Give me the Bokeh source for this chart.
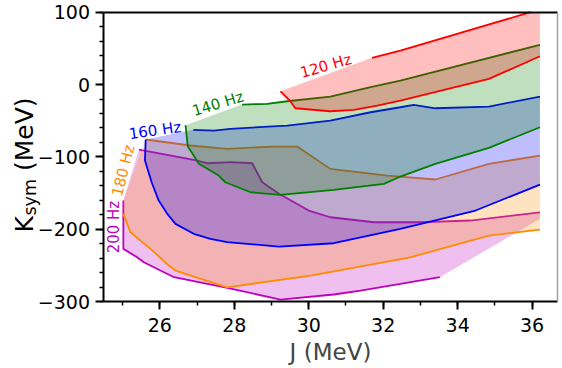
import math
from bokeh.plotting import figure
from bokeh.models import (Range1d, SingleIntervalTicker, FixedTicker, Label,
                          ColumnDataSource, LinearAxis)
from bokeh.core.properties import value
from bokeh.embed import file_html
from bokeh.resources import INLINE

# ---------------- data (J in MeV, Ksym in MeV) ----------------
# 120 Hz band
f120_upper_J = [31.70, 32.46, 35.96]
f120_upper_K = [36.9, 47.0, 100.0]
f120_corner_J = [36.21]
f120_corner_K = [100.0]
f120_lower_J = [29.24, 29.49, 29.64, 30.58, 31.21, 31.84, 32.46, 34.84, 36.21]
f120_lower_K = [-9.3, -22.1, -32.8, -36.9, -35.0, -29.0, -22.1, 7.9, 39.1]

# 140 Hz band
f140_upper_J = [28.21, 28.88, 29.42, 30.58, 31.66, 32.46, 36.21]
f140_upper_K = [-27.7, -26.7, -23.1, -16.6, -3.7, 5.5, 54.9]
f140_lower_J = [26.69, 26.75, 27.05, 27.58, 27.76, 28.44, 29.24, 30.67, 32.02, 32.46, 33.40, 34.84, 36.21]
f140_lower_K = [-56.3, -85.3, -109.6, -125.8, -135.1, -148.9, -152.5, -145.6, -137.3, -127.2, -109.6, -87.5, -59.0]

# 160 Hz band
f160_upper_J = [26.90, 27.45, 27.90, 29.42, 30.58, 31.66, 32.46, 32.82, 33.40, 34.84, 36.21]
f160_upper_K = [-62.6, -63.6, -61.2, -56.7, -49.8, -38.3, -31.4, -28.1, -32.8, -30.4, -16.6]
f160_lower_J = [25.62, 25.60, 25.78, 25.97, 26.20, 26.42, 26.91, 27.36, 27.81, 29.20, 30.67, 32.46, 34.48, 36.21]
f160_lower_K = [-76.0, -105.1, -135.1, -160.4, -178.8, -192.6, -206.4, -213.3, -218.0, -224.0, -219.4, -199.5, -174.2, -138.3]

# 180 Hz band
f180_upper_J = [25.62, 26.82, 27.81, 29.06, 29.69, 30.58, 32.11, 33.40, 34.84, 36.21]
f180_upper_K = [-76.0, -84.3, -88.9, -85.7, -85.7, -116.6, -125.8, -131.3, -109.6, -98.2]
f180_lower_J = [25.02, 25.21, 25.75, 26.24, 26.42, 27.81, 30.05, 32.73, 34.84, 36.21]
f180_lower_K = [-178.8, -204.2, -227.2, -250.3, -257.2, -280.3, -264.1, -238.8, -208.8, -200.5]

# 200 Hz band
f200_upper_J = [25.44, 26.91, 27.27, 27.90, 28.48, 28.75, 29.20, 30.00, 30.58, 31.75, 33.00, 34.34, 36.21]
f200_upper_K = [-89.9, -104.0, -108.8, -107.4, -108.8, -135.1, -151.1, -174.2, -183.5, -190.4, -190.4, -188.0, -176.6]
f200_lower_J = [25.02, 25.02, 25.39, 25.57, 26.38, 27.81, 29.24, 30.67, 31.39, 32.46, 33.52]
f200_lower_K = [-160.4, -227.2, -238.8, -245.7, -266.4, -281.1, -297.3, -290.3, -284.8, -275.6, -266.4]
f200_corner_J = [36.21]
f200_corner_K = [-185.7]

# band labels
label_text = ["120 Hz", "140 Hz", "160 Hz", "180 Hz", "200 Hz"]
label_J = [30.46, 27.56, 25.87, 25.02, 24.77]
label_K = [25.6, -26.7, -63.6, -118.9, -197.0]
label_angle_deg = [16, 17, 8, 76, 90]

# axes / ticks
J_MIN, J_MAX = 24.5, 36.68
K_MIN, K_MAX = -300, 100
ytick_values = [-300, -200, -100, 0, 100]
ytick_labels = ["\u2212300", "\u2212200", "\u2212100", "0", "100"]

colors = {"120": "#ff0000", "140": "#008000", "160": "#0000ff", "180": "#ff8c00", "200": "#bf00bf"}
FONT = "DejaVu Sans"

# whole canvas is the frame; axes are fixed at the data edges
p = figure(width=562, height=368, output_backend="svg", toolbar_location=None,
           x_range=Range1d(21.720, 36.816), y_range=Range1d(-392.6, 116.2),
           min_border=0, min_border_left=0, min_border_right=0,
           min_border_top=0, min_border_bottom=0)
p.grid.visible = False
p.outline_line_color = None
p.background_fill_color = "white"
p.border_fill_color = "white"

polys = {
    "200": (f200_upper_J + f200_corner_J + f200_lower_J[::-1],
            f200_upper_K + f200_corner_K + f200_lower_K[::-1]),
    "180": (f180_upper_J + f180_lower_J[::-1] + [f200_lower_J[0]],
            f180_upper_K + f180_lower_K[::-1] + [f200_lower_K[0]]),
    "160": (f160_upper_J + f160_lower_J[::-1],
            f160_upper_K + f160_lower_K[::-1]),
    "140": (f140_upper_J + f140_lower_J[::-1],
            f140_upper_K + f140_lower_K[::-1]),
    "120": (f120_upper_J + f120_corner_J + f120_lower_J[::-1],
            f120_upper_K + f120_corner_K + f120_lower_K[::-1]),
}
lines = {
    "200": [(f200_upper_J, f200_upper_K), (f200_lower_J, f200_lower_K)],
    "180": [(f180_upper_J, f180_upper_K), (f180_lower_J, f180_lower_K)],
    "160": [(f160_upper_J, f160_upper_K), (f160_lower_J, f160_lower_K)],
    "140": [(f140_upper_J, f140_upper_K), (f140_lower_J, f140_lower_K)],
    "120": [(f120_upper_J, f120_upper_K), (f120_lower_J, f120_lower_K)],
}

for key in ["200", "180", "160", "140", "120"]:
    c = colors[key]
    for (lx, ly) in lines[key]:
        p.line(lx, ly, line_color=c, line_width=1.8)
    px, py = polys[key]
    p.patch(px, py, fill_color=c, fill_alpha=0.25, line_color=None)

src = ColumnDataSource(dict(
    x=label_J, y=label_K, text=label_text,
    angle=[math.radians(a) for a in label_angle_deg],
    color=[colors["120"], colors["140"], colors["160"], colors["180"], colors["200"]],
))
p.text(x="x", y="y", text="text", angle="angle", text_color="color", source=src,
       text_font=value(FONT), text_font_size="15px", text_align="center", text_baseline="middle")

# main axes, fixed at the plot box edges
xa = p.xaxis[0]
ya = p.yaxis[0]
xa.fixed_location = K_MIN
ya.fixed_location = J_MIN
xa.bounds = (J_MIN, J_MAX)
ya.bounds = (K_MIN, K_MAX)
for ax in (xa, ya):
    ax.axis_line_width = 2
    ax.axis_line_color = "black"
    ax.major_tick_line_width = 2
    ax.minor_tick_line_width = 1.5
    ax.major_tick_out = 8
    ax.major_tick_in = 0
    ax.minor_tick_out = 4
    ax.minor_tick_in = 0
    ax.major_label_text_font = FONT
    ax.major_label_text_font_size = "19px"
    ax.major_label_text_color = "black"

xa.ticker = SingleIntervalTicker(interval=2, num_minor_ticks=2)
ya.ticker = SingleIntervalTicker(interval=100, num_minor_ticks=5)
ya.major_label_overrides = dict(zip(ytick_values, ytick_labels))
xa.major_label_standoff = 8
ya.major_label_standoff = 6
xa.axis_label = "J (MeV)"
xa.axis_label_text_font = FONT
xa.axis_label_text_font_size = "23px"
xa.axis_label_text_font_style = "normal"
xa.axis_label_standoff = 4

# top and right edges of the box
top = LinearAxis(fixed_location=K_MAX, bounds=(J_MIN, J_MAX), ticker=FixedTicker(ticks=[]),
                 axis_line_width=2, axis_line_color="black",
                 major_tick_out=0, minor_tick_out=0, major_label_text_font_size="0px")
right = LinearAxis(fixed_location=J_MAX, bounds=(K_MIN, K_MAX), ticker=FixedTicker(ticks=[]),
                   axis_line_width=1.5, axis_line_color="#a0a0a0",
                   major_tick_out=0, minor_tick_out=0, major_label_text_font_size="0px")
p.add_layout(top, "above")
p.add_layout(right, "right")

# y-axis label with subscript, as separate text pieces
ylab_pieces = [("K", 22.378, -204.6, "25px"), ("sym", 22.499, -181.1, "17.5px"), ("(MeV)", 22.378, -119.6, "25px")]
for t, x, y, fs in ylab_pieces:
    p.add_layout(Label(x=x, y=y, text=t, angle=math.pi / 2, text_align="left",
                       text_baseline="alphabetic", text_font=FONT, text_font_size=fs,
                       text_color="black"))

open("out.html", "w").write(file_html(p, INLINE))
